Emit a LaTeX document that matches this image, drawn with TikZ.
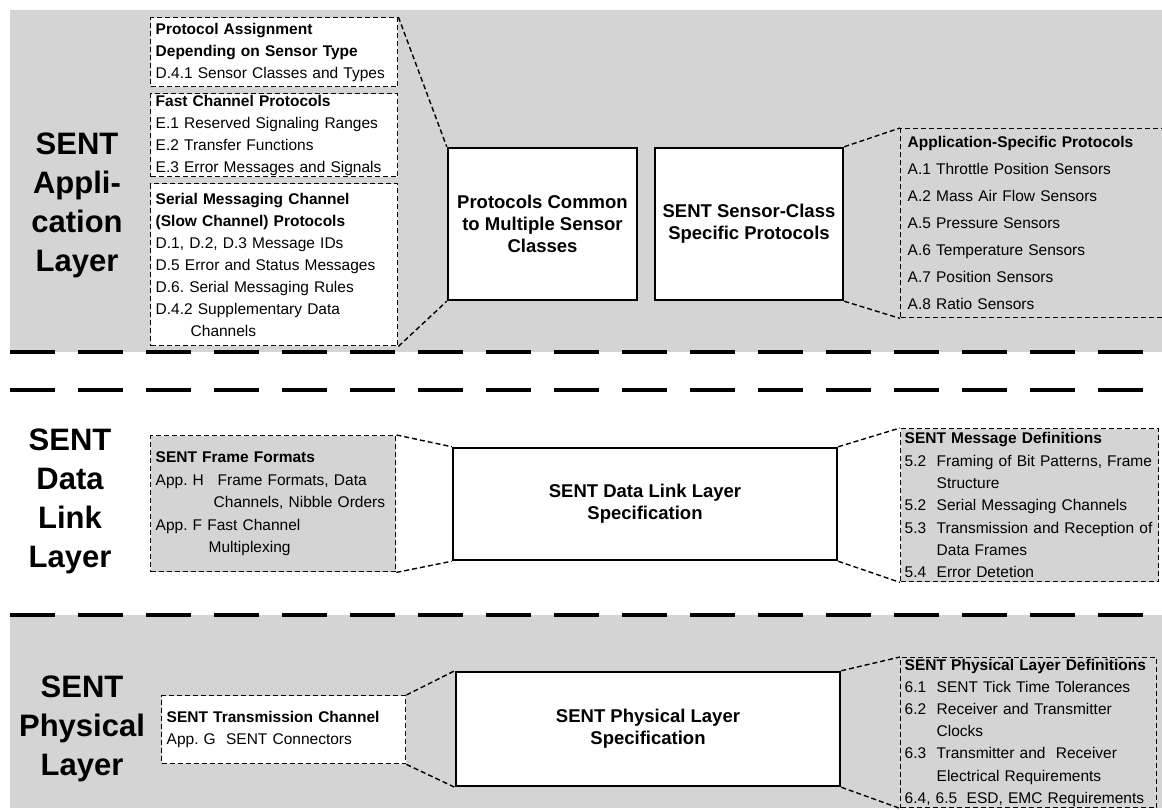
\documentclass[tikz,border=0pt]{standalone}
\usepackage{fontspec}
\setmainfont{Liberation Sans}
\usepackage{tikz}
\definecolor{bandgray}{RGB}{212,212,212}
\frenchspacing

\begin{document}
\begin{tikzpicture}[x=1pt, y=-1pt,
    layerlab/.style={font=\fontsize{31}{39}\selectfont\bfseries, align=center},
    specbox/.style={draw, line width=2.5pt, fill=white, align=center, inner sep=0pt,
      font=\fontsize{18.5}{22}\selectfont\bfseries},
    listbox/.style={draw, line width=1.4pt, dash pattern=on 5pt off 3pt,
      anchor=north west, align=left, inner xsep=5pt, inner ysep=0pt,
      font=\fontsize{15.5}{22}\selectfont},
    zoomline/.style={line width=1.4pt, dash pattern=on 5pt off 3pt},
    divider/.style={line width=4pt, dash pattern=on 45pt off 23pt}]
  \useasboundingbox (0,0) rectangle (1162,810);
  \clip (0,0) rectangle (1162,810);
  %--- Shaded bands
  \fill[bandgray] (10,10) rectangle (1162,352);
  \fill[bandgray] (10,615) rectangle (1162,808);
  %--- Layer dividers
  \draw[divider] (10,352) -- (1162,352);
  \draw[divider] (10,390) -- (1162,390);
  \draw[divider] (10,615) -- (1162,615);
  %--- Layer names
  \node[layerlab] (applab) at (77,205) {SENT\\Appli-\\cation\\Layer};
  \node[layerlab] (dllab)  at (70,501) {SENT\\Data\\Link\\Layer};
  \node[layerlab] (phylab) at (82,729) {SENT\\Physical\\Layer};
  %--- Application layer
  \node[listbox, fill=white, text width=237pt, minimum height=69pt] (assign) at (150,17)
    {\textbf{Protocol Assignment}\\\textbf{Depending on Sensor Type}\\D.4.1 Sensor Classes and Types};
  \node[listbox, fill=white, text width=237pt, minimum height=83pt] (fastch) at (150,93)
    {\textbf{Fast Channel Protocols}\\E.1 Reserved Signaling Ranges\\E.2 Transfer Functions\\E.3 Error Messages and Signals};
  \node[listbox, fill=white, text width=237pt, minimum height=162pt] (serial) at (150,183)
    {\textbf{Serial Messaging Channel}\\\textbf{(Slow Channel) Protocols}\\D.1, D.2, D.3 Message IDs\\D.5 Error and Status Messages\\D.6. Serial Messaging Rules\\D.4.2 Supplementary Data\\\hspace*{35pt}Channels};
  \node[specbox, minimum width=189pt, minimum height=152pt] (common) at (542.5,224)
    {Protocols Common\\to Multiple Sensor\\Classes};
  \node[specbox, minimum width=188pt, minimum height=152pt] (classspec) at (749,224)
    {SENT Sensor-Class\\Specific Protocols};
  \node[listbox, inner xsep=7pt, text width=252pt, minimum height=189pt,
    font=\fontsize{15.5}{27}\selectfont] (appspec) at (900,128)
    {\textbf{Application-Specific Protocols}\\A.1 Throttle Position Sensors\\A.2 Mass Air Flow Sensors\\A.5 Pressure Sensors\\A.6 Temperature Sensors\\A.7 Position Sensors\\A.8 Ratio Sensors};
  \draw[zoomline] (assign.north east) -- (common.north west);
  \draw[zoomline] (serial.south east) -- (common.south west);
  \draw[zoomline] (classspec.north east) -- (appspec.north west);
  \draw[zoomline] (classspec.south east) -- (appspec.south west);
  %--- Data link layer
  \node[listbox, fill=bandgray, text width=235pt, minimum height=136pt,
    font=\fontsize{15.5}{22.5}\selectfont] (frame) at (150,435)
    {\textbf{SENT Frame Formats}\\\makebox[62pt][l]{App. H}Frame Formats, Data\\\hspace*{58pt}Channels, Nibble Orders\\App. F Fast Channel\\\hspace*{53pt}Multiplexing};
  \node[specbox, minimum width=384pt, minimum height=112pt] (dlspec) at (645,504)
    {SENT Data Link Layer\\Specification};
  \node[listbox, fill=bandgray, inner xsep=4pt, text width=250pt, minimum height=153pt,
    font=\fontsize{15.5}{22.3}\selectfont] (msgdef) at (900,428)
    {\textbf{SENT Message Definitions}\\\makebox[32pt][l]{5.2}Framing of Bit Patterns, Frame\\\hspace*{32pt}Structure\\\makebox[32pt][l]{5.2}Serial Messaging Channels\\\makebox[32pt][l]{5.3}Transmission and Reception of\\\hspace*{32pt}Data Frames\\\makebox[32pt][l]{5.4}Error Detetion};
  \draw[zoomline] (frame.north east) -- (dlspec.north west);
  \draw[zoomline] (frame.south east) -- (dlspec.south west);
  \draw[zoomline] (dlspec.north east) -- (msgdef.north west);
  \draw[zoomline] (dlspec.south east) -- (msgdef.south west);
  %--- Physical layer
  \node[listbox, fill=white, text width=234pt, minimum height=68pt] (trans) at (161,695)
    {\textbf{SENT Transmission Channel}\\App. G\ \ SENT Connectors};
  \node[specbox, minimum width=384pt, minimum height=114pt] (physpec) at (648,729)
    {SENT Physical Layer\\Specification};
  \node[listbox, inner xsep=4pt, text width=248pt, minimum height=150pt,
    font=\fontsize{15.5}{22.2}\selectfont] (phydef) at (900,657)
    {\textbf{SENT Physical Layer Definitions}\\\makebox[32pt][l]{6.1}SENT Tick Time Tolerances\\\makebox[32pt][l]{6.2}Receiver and Transmitter\\\hspace*{32pt}Clocks\\\makebox[32pt][l]{6.3}Transmitter and\ \ Receiver\\\hspace*{32pt}Electrical Requirements\\\makebox[62pt][l]{6.4, 6.5}ESD, EMC Requirements};
  \draw[zoomline] (trans.north east) -- (physpec.north west);
  \draw[zoomline] (trans.south east) -- (physpec.south west);
  \draw[zoomline] (physpec.north east) -- (phydef.north west);
  \draw[zoomline] (physpec.south east) -- (phydef.south west);
\end{tikzpicture}
\end{document}
